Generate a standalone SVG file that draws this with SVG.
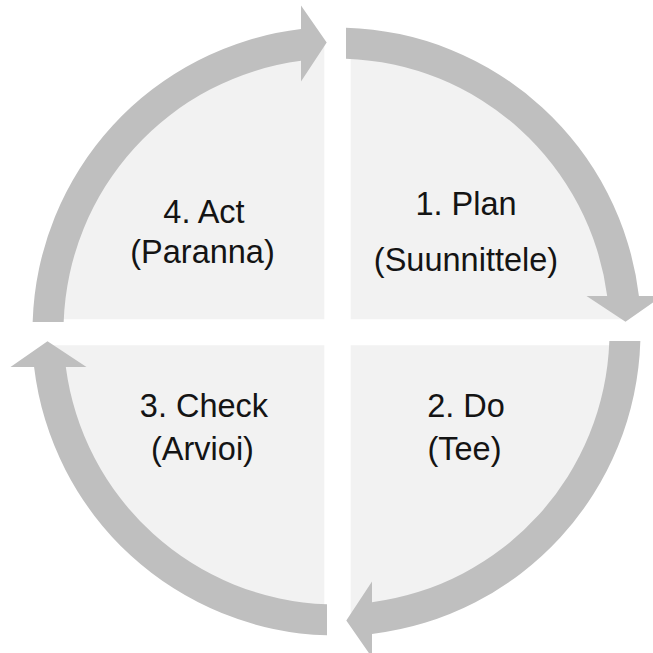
<svg xmlns="http://www.w3.org/2000/svg" xmlns:xlink="http://www.w3.org/1999/xlink" width="653" height="653" viewBox="0 0 653 653">
  <style>
    .seg { fill: #f2f2f2; }
    .arrow { fill: #bfbfbf; }
    .label { font-family: "Liberation Sans", Arial, sans-serif; font-size: 32.5px; fill: #141414; text-anchor: middle; }
  </style>
  <defs>
    <!-- one curved arrow for a quarter turn, drawn around the cycle centre -->
    <path id="quarterArrow" class="arrow"
          d="M9.5 -303.85 A304.5 304.5 0 0 1 302.42 -35.5 L326 -35.5 L289 -9.8 L250 -35.5 L270.68 -35.5 A273 273 0 0 0 9.5 -272.83 Z"/>
  </defs>
  <rect width="653" height="653" fill="#ffffff"/>

  <g id="plan">
    <path class="seg" d="M350.7 319.3 V42.85 A289 289 0 0 1 625.24 319.3 Z"/>
    <text class="label" x="466" y="215">1. Plan</text>
    <text class="label" x="466" y="271">(Suunnittele)</text>
  </g>
  <g id="do">
    <path class="seg" d="M350.7 345.3 H625.17 A289 289 0 0 1 350.7 620.15 Z"/>
    <text class="label" x="466" y="416.7">2. Do</text>
    <text class="label" x="464.5" y="460">(Tee)</text>
  </g>
  <g id="check">
    <path class="seg" d="M324.3 345.3 V620.24 A289 289 0 0 1 47.83 345.3 Z"/>
    <text class="label" x="204" y="416.7">3. Check</text>
    <text class="label" x="202.5" y="460">(Arvioi)</text>
  </g>
  <g id="act">
    <path class="seg" d="M324.3 319.3 V42.76 A289 289 0 0 0 47.76 319.3 Z"/>
    <text class="label" x="204" y="222.7">4. Act</text>
    <text class="label" x="202.5" y="263.3">(Paranna)</text>
  </g>

  <g id="connectors">
    <use xlink:href="#quarterArrow" transform="translate(336.5 331.5)"/>
    <use xlink:href="#quarterArrow" transform="translate(336.5 331.5) rotate(90)"/>
    <use xlink:href="#quarterArrow" transform="translate(336.5 331.5) rotate(180)"/>
    <use xlink:href="#quarterArrow" transform="translate(336.5 331.5) rotate(270)"/>
  </g>
</svg>
